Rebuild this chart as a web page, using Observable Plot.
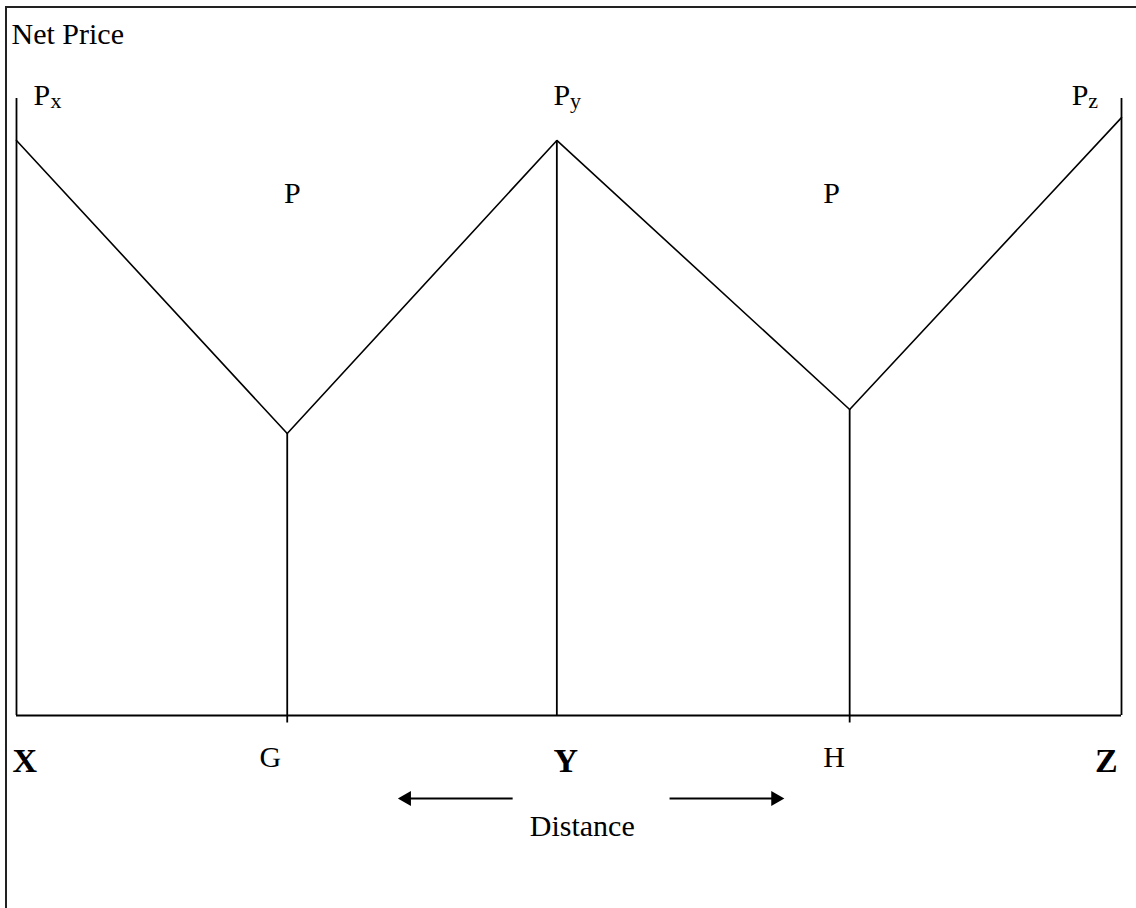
<!DOCTYPE html>
<html>
<head>
<meta charset="utf-8">
<script src="https://cdn.jsdelivr.net/npm/d3@7"></script>
<script src="https://cdn.jsdelivr.net/npm/@observablehq/plot@0.6"></script>
<style>
  html, body { margin: 0; padding: 0; background: #fff; overflow: hidden; }
  #frame { position: absolute; left: 5px; top: 6px; width: 2000px; height: 2000px;
           border-top: 2px solid #222; border-left: 2px solid #222; }
  #chart { position: absolute; left: 0; top: 0; }
</style>
</head>
<body>
<div id="frame"></div>
<div id="chart"></div>
<script>
// Locations along the distance axis (0–100) and delivered net price (0–100)
const locations = ["X", "G", "Y", "H", "Z"];
const locationX = [0, 24.5, 48.9, 75.4, 100];
const netPrice  = [93.2, 45.7, 93.2, 49.6, 96.9];

// Vertical boundary rules: market boundaries G, H and centre Y
const ruleX   = [24.5, 48.9, 75.4];
const ruleY1  = [-1.2, 0, -1.2];
const ruleY2  = [45.7, 93.2, 49.6];

// Axis frame (left axis, right axis, baseline)
const axisTop = 100;

// Text labels (left-anchored)
const labelText = ["Net Price", "P", "P", "P", "P", "P", "G", "H"];
const labelX    = [-0.45, 1.54, 48.6, 95.5, 24.2, 73.0, 22.0, 73.0];
const labelY    = [108.9, 98.9, 98.9, 98.9, 83.1, 83.1, -8.4, -8.4];

// Axis title (centred)
const titleText = ["Distance"];
const titleX    = [51.2];
const titleY    = [-19.6];

// Subscripts of the prices
const subText = ["x", "y", "z"];
const subX    = [3.08, 50.1, 97.0];
const subY    = [98.4, 98.4, 98.4];

// Bold location names
const boldText = ["X", "Y", "Z"];
const boldX    = [-0.36, 49.7, 97.6];
const boldY    = [-9.2, -9.2, -9.2];
const boldAnchor = ["start", "middle", "start"];

// Distance arrows
const arrowFrom = [44.9, 59.1];
const arrowTo   = [35.3, 68.7];
const arrowY    = [-13.45, -13.45];
const arrowRotate = [-90, 90];

const curve = locations.map((d, i) => ({loc: d, x: locationX[i], y: netPrice[i]}));
const rules = ruleX.map((x, i) => ({x, y1: ruleY1[i], y2: ruleY2[i]}));
const labels = labelText.map((t, i) => ({t, x: labelX[i], y: labelY[i]}));
const titles = titleText.map((t, i) => ({t, x: titleX[i], y: titleY[i]}));
const subs = subText.map((t, i) => ({t, x: subX[i], y: subY[i]}));
const bolds = boldText.map((t, i) => ({t, x: boldX[i], y: boldY[i], a: boldAnchor[i]}));
const arrows = arrowFrom.map((x1, i) => ({x1, x2: arrowTo[i], y: arrowY[i], r: arrowRotate[i]}));

const font = "'Liberation Serif', 'Times New Roman', serif";
const sw = 1.8;

const chart = Plot.plot({
  width: 1136,
  height: 908,
  marginLeft: 16,
  marginRight: 15,
  marginTop: 98,
  marginBottom: 193,
  x: {domain: [0, 100], axis: null},
  y: {domain: [0, 100], axis: null},
  style: {fontFamily: font, background: "transparent", overflow: "visible"},
  marks: [
    // axes
    Plot.ruleX([0, 100], {y1: 0, y2: axisTop, stroke: "black", strokeWidth: sw}),
    Plot.ruleY([0], {x1: 0, x2: 100, stroke: "black", strokeWidth: sw}),
    // boundary rules
    Plot.ruleX(rules, {x: "x", y1: "y1", y2: "y2", stroke: "black", strokeWidth: sw}),
    // price curve
    Plot.line(curve, {x: "x", y: "y", stroke: "black", strokeWidth: 1.6, strokeLinejoin: "miter"}),
    // labels
    Plot.text(labels, {x: "x", y: "y", text: "t", textAnchor: "start", lineAnchor: "bottom",
      fontSize: 30, fill: "black"}),
    Plot.text(titles, {x: "x", y: "y", text: "t", textAnchor: "middle", lineAnchor: "bottom",
      fontSize: 30, fill: "black"}),
    Plot.text(subs, {x: "x", y: "y", text: "t", textAnchor: "start", lineAnchor: "bottom",
      fontSize: 22, fill: "black"}),
    Plot.text(bolds.filter((d) => d.a === "start"), {x: "x", y: "y", text: "t", textAnchor: "start", lineAnchor: "bottom",
      fontSize: 34, fontWeight: "bold", fill: "black"}),
    Plot.text(bolds.filter((d) => d.a === "middle"), {x: "x", y: "y", text: "t", textAnchor: "middle", lineAnchor: "bottom",
      fontSize: 34, fontWeight: "bold", fill: "black"}),
    // arrows
    Plot.link(arrows, {x1: "x1", x2: "x2", y1: "y", y2: "y", stroke: "black", strokeWidth: sw}),
    Plot.dot(arrows, {x: "x2", y: "y", symbol: "triangle", r: 5.6, rotate: "r", fill: "black", stroke: "none"})
  ]
});

document.getElementById("chart").appendChild(chart);
</script>
</body>
</html>
